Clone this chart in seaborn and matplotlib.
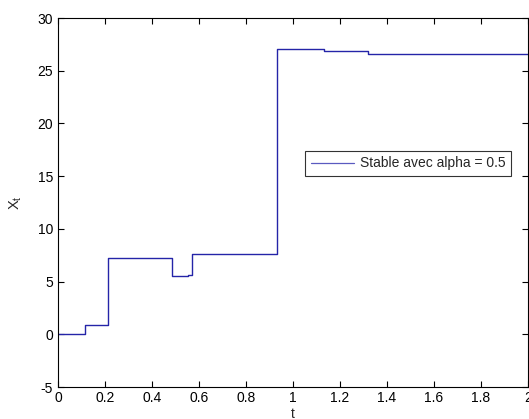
import matplotlib
matplotlib.use("Agg")
import matplotlib.pyplot as plt
import seaborn as sns
import pandas as pd

t_vals = [0.0, 0.115, 0.213, 0.485, 0.553, 0.569, 0.93, 1.132, 1.32, 2.0]
x_vals = [0.0, 0.9, 7.2, 5.5, 5.6, 7.6, 27.1, 26.9, 26.6, 26.6]
series_label = "Stable avec alpha = 0.5"
xticks = [0, 0.2, 0.4, 0.6, 0.8, 1, 1.2, 1.4, 1.6, 1.8, 2]
xtick_labels = ["0", "0.2", "0.4", "0.6", "0.8", "1", "1.2", "1.4", "1.6", "1.8", "2"]
yticks = [-5, 0, 5, 10, 15, 20, 25, 30]

sns.set_style("white")
plt.rcParams["font.family"] = ["Liberation Sans", "DejaVu Sans"]
plt.rcParams["mathtext.fontset"] = "custom"
plt.rcParams["mathtext.rm"] = "Liberation Sans"
plt.rcParams["axes.unicode_minus"] = False

df = pd.DataFrame({"t": t_vals, "x": x_vals})

fig = plt.figure(figsize=(5.29, 4.19), dpi=100)
ax = fig.add_axes([58 / 529, 1 - 387 / 419, 470 / 529, 369 / 419])
sns.lineplot(data=df, x="t", y="x", ax=ax, drawstyle="steps-post", sort=False,
             color="#2424a8", linewidth=1.0, label=series_label)

ax.set_xlim(0, 2)
ax.set_ylim(-5, 30)
ax.set_xticks(xticks)
ax.set_xticklabels(xtick_labels)
ax.set_yticks(yticks)
ax.tick_params(direction="in", length=4, width=0.8, labelsize=10, colors="black",
               top=True, right=True, bottom=True, left=True, pad=3)
ax.tick_params(axis="y", pad=3.5)
for s in ax.spines.values():
    s.set_color("black")
    s.set_linewidth(0.8)
ax.set_xlabel("t", fontsize=10, labelpad=1)
ax.set_ylabel(r"$\mathregular{X_t}$", fontsize=10.5, labelpad=10)

leg = ax.legend(loc="upper right", bbox_to_anchor=(0.964, 0.640), fontsize=10,
                frameon=True, fancybox=False, shadow=False, handlelength=3.1,
                borderpad=0.4, handletextpad=0.45, borderaxespad=0)
leg.get_frame().set_edgecolor("black")
leg.get_frame().set_linewidth(0.8)
for line in leg.get_lines():
    line.set_linewidth(0.9)
    line.set_color("#5a5ac0")

fig.savefig("out.png", dpi=100)
